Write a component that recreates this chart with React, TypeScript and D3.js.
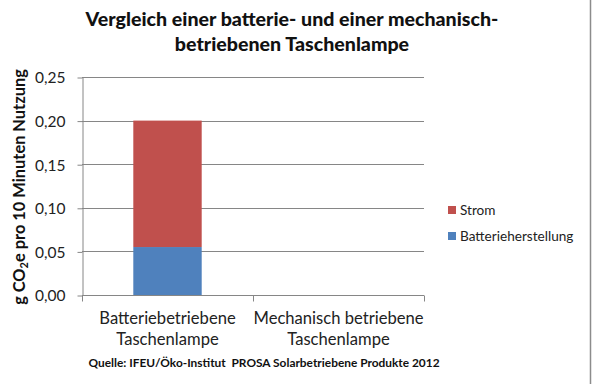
import React, { useEffect, useRef } from 'react';
import * as d3 from 'd3';

const categories = ['Batteriebetriebene Taschenlampe', 'Mechanisch betriebene Taschenlampe'];
const categoryLines = [
  ['Batteriebetriebene', 'Taschenlampe'],
  ['Mechanisch betriebene', 'Taschenlampe'],
];
const seriesNames = ['Batterieherstellung', 'Strom'];
const batterieherstellung = [0.055, 0];
const strom = [0.145, 0];
const yTicks = [0, 0.05, 0.1, 0.15, 0.2, 0.25];
const colors = { Batterieherstellung: '#4F81BD', Strom: '#C0504D' };

const W = 592;
const H = 384;
const FONT = 'Lato, "Open Sans", sans-serif';

const App = () => {
  const svgRef = useRef<SVGSVGElement>(null);

  useEffect(() => {
    const svg = d3.select(svgRef.current);
    svg.selectAll('*').remove();

    const left = 82;
    const right = 424;
    const top = 77;
    const bottom = 295;

    const rows = categories.map((c, i) => ({
      cat: c,
      Batterieherstellung: batterieherstellung[i],
      Strom: strom[i],
    }));
    const layers = d3.stack<any>().keys(seriesNames)(rows);

    const x = d3.scaleBand().domain(categories).range([left, right]).paddingInner(0.6).paddingOuter(0.3);
    const xb = d3.scaleBand().domain(categories).range([left, right]);
    const y = d3.scaleLinear().domain([0, 0.25]).range([bottom, top]);

    // background + right edge only
    svg.append('rect').attr('width', W).attr('height', H).attr('fill', 'white');
    svg.append('line')
      .attr('x1', 590.5).attr('x2', 590.5).attr('y1', 0).attr('y2', H)
      .attr('stroke', '#8c8c8c').attr('stroke-width', 1.5);

    // gridlines
    svg.append('g')
      .selectAll('line')
      .data(yTicks.slice(1))
      .join('line')
      .attr('x1', left).attr('x2', right)
      .attr('y1', (d) => Math.round(y(d)) + 0.5).attr('y2', (d) => Math.round(y(d)) + 0.5)
      .attr('stroke', '#868686');

    // bars
    svg.append('g')
      .selectAll('g')
      .data(layers)
      .join('g')
      .attr('fill', (l) => colors[l.key as keyof typeof colors])
      .selectAll('rect')
      .data((l) => l.map((s) => ({ s })))
      .join('rect')
      .attr('x', (d) => x(d.s.data.cat)!)
      .attr('width', x.bandwidth())
      .attr('y', (d) => y(d.s[1]))
      .attr('height', (d) => y(d.s[0]) - y(d.s[1]));

    // y axis
    const yAxis = d3.axisLeft(y).tickValues(yTicks).tickSize(5).tickSizeOuter(0)
      .tickFormat((d) => d3.format('.2f')(d as number).replace('.', ','));
    const gy = svg.append('g').attr('transform', `translate(${left + 0.5},0.5)`).call(yAxis);
    gy.selectAll('line').attr('stroke', '#868686');
    gy.select('.domain').attr('stroke', '#868686');
    gy.selectAll('text')
      .attr('font-family', FONT).attr('font-size', 15.5).attr('fill', '#222')
      .attr('x', -17).attr('dy', '0.35em');

    // x axis
    const gx = svg.append('g').attr('transform', `translate(0,${bottom + 0.5})`);
    gx.append('line').attr('x1', left).attr('x2', right).attr('stroke', '#868686');
    const tickXs = [left, ...categories.map((c) => xb(c)! + xb.bandwidth())];
    gx.selectAll('line.tick')
      .data(tickXs)
      .join('line')
      .attr('class', 'tick')
      .attr('x1', (d) => Math.round(d) + 0.5).attr('x2', (d) => Math.round(d) + 0.5)
      .attr('y1', 0).attr('y2', 6)
      .attr('stroke', '#868686');

    const labels = svg.append('g')
      .selectAll('text')
      .data(categories)
      .join('text')
      .attr('x', (c) => xb(c)! + xb.bandwidth() / 2)
      .attr('y', 324)
      .attr('text-anchor', 'middle')
      .attr('font-family', FONT).attr('font-size', 16.6).attr('fill', '#222');
    labels.selectAll('tspan')
      .data((c) => categoryLines[categories.indexOf(c as string)])
      .join('tspan')
      .attr('x', function () { return (this.parentNode as SVGTextElement).getAttribute('x'); })
      .attr('dy', (d, i) => (i === 0 ? 0 : 21))
      .text((d) => d);

    // legend
    const legendItems = [...seriesNames].reverse();
    const lg = svg.append('g')
      .selectAll('g')
      .data(legendItems)
      .join('g')
      .attr('transform', (d, i) => `translate(448,${210 + i * 26})`);
    lg.append('rect').attr('x', 0).attr('y', -4).attr('width', 8).attr('height', 8)
      .attr('fill', (d) => colors[d as keyof typeof colors]);
    lg.append('text').attr('x', 12).attr('y', 0).attr('dy', '0.35em')
      .attr('font-family', FONT).attr('font-size', 13.6).attr('fill', '#222')
      .text((d) => d);

    // title
    const title = svg.append('text')
      .attr('text-anchor', 'middle')
      .attr('font-family', FONT).attr('font-size', 19.6).attr('font-weight', 900).attr('fill', '#111');
    title.append('tspan').attr('x', 292).attr('y', 26).text('Vergleich einer batterie- und einer mechanisch-');
    title.append('tspan').attr('x', 292).attr('y', 51).text('betriebenen Taschenlampe');

    // y label
    const yl = svg.append('text')
      .attr('transform', `translate(25,187) rotate(-90)`)
      .attr('text-anchor', 'middle')
      .attr('font-family', FONT).attr('font-size', 16.4).attr('font-weight', 'bold').attr('fill', '#111');
    yl.append('tspan').text('g CO');
    yl.append('tspan').attr('font-size', 11).attr('dy', 3).text('2');
    yl.append('tspan').attr('dy', -3).text('e pro 10 Minuten Nutzung');

    // source
    svg.append('text')
      .attr('x', 264).attr('y', 367)
      .attr('text-anchor', 'middle')
      .attr('font-family', FONT).attr('font-size', 11.9).attr('font-weight', 'bold').attr('fill', '#111')
      .attr('xml:space', 'preserve')
      .text('Quelle: IFEU/Öko-Institut  PROSA Solarbetriebene Produkte 2012');
  }, []);

  return (
    <svg ref={svgRef} width={W} height={H} style={{ position: 'absolute', left: 0, top: 0 }} />
  );
};

export default App;
